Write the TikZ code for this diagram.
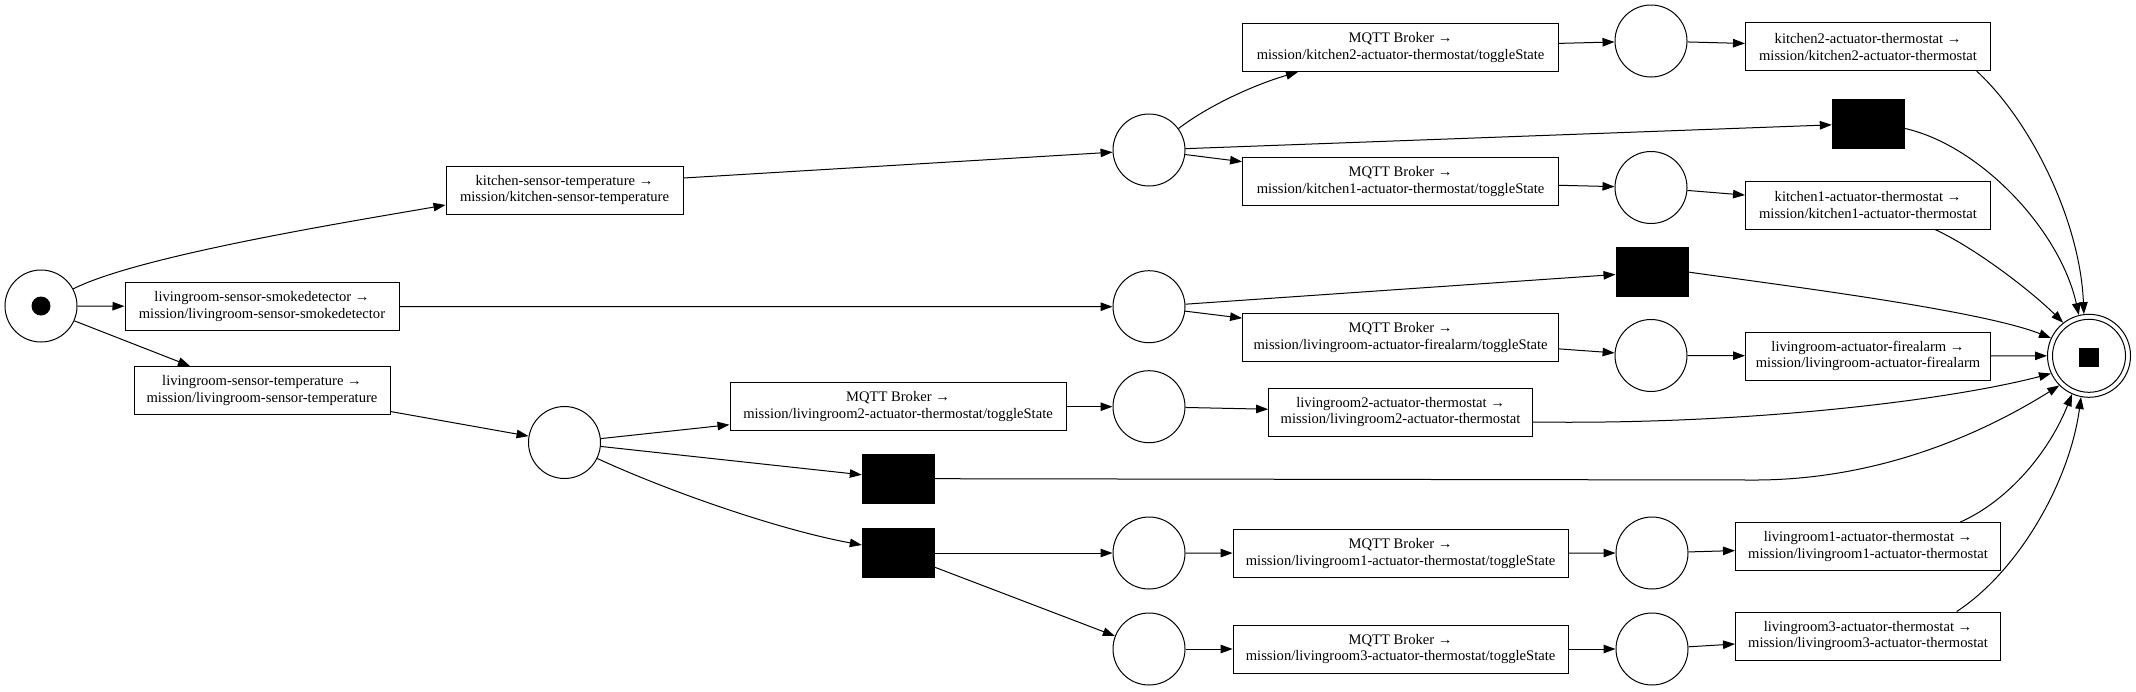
\documentclass[tikz,border=0pt]{standalone}
\usepackage{fontspec}
\setmainfont{Liberation Serif}
\usetikzlibrary{arrows.meta}
\begin{document}
\begin{tikzpicture}[x=1pt,y=-1pt,
  pl/.style={circle, draw, line width=1pt, minimum size=72pt, inner sep=0pt},
  tr/.style={rectangle, draw, line width=1pt, align=center, inner sep=2pt, minimum height=48pt, font=\fontsize{14.6}{16.8}\selectfont},
  bt/.style={rectangle, fill=black, draw=black, minimum width=72pt, minimum height=49pt, inner sep=0pt},
  arc/.style={-{Triangle[length=12pt,width=8.5pt]}, line width=1pt}]
\useasboundingbox (0,0) rectangle (2136,691);
% nodes
\node[pl] (start) at (41,306) {};
\node[circle, fill=black, minimum size=19pt, inner sep=0pt] (tok) at (start.center) {};
\node[tr, minimum width=237pt] (ks) at (564.5,190) {kitchen-sensor-temperature →\\mission/kitchen-sensor-temperature};
\node[tr, minimum width=274pt] (sm) at (262,306.5) {livingroom-sensor-smokedetector →\\mission/livingroom-sensor-smokedetector};
\node[tr, minimum width=256pt] (lt) at (262,390.5) {livingroom-sensor-temperature →\\mission/livingroom-sensor-temperature};
\node[pl] (Pk) at (1149,150) {};
\node[pl] (Ps) at (1149,306.7) {};
\node[pl] (Pl) at (564.5,442.5) {};
\node[tr, minimum width=316pt] (Mk2) at (1400.6,47.5) {MQTT Broker →\\mission/kitchen2-actuator-thermostat/toggleState};
\node[tr, minimum width=316pt] (Mk1) at (1400.6,181.5) {MQTT Broker →\\mission/kitchen1-actuator-thermostat/toggleState};
\node[bt] (T1) at (1868,123.5) {};
\node[pl] (Pk2) at (1651,41) {};
\node[pl] (Pk1) at (1651,187.5) {};
\node[tr, minimum width=245pt] (Ak2) at (1868,46.7) {kitchen2-actuator-thermostat →\\mission/kitchen2-actuator-thermostat};
\node[tr, minimum width=245pt] (Ak1) at (1868,205) {kitchen1-actuator-thermostat →\\mission/kitchen1-actuator-thermostat};
\node[bt] (T2) at (1651.7,272) {};
\node[tr, minimum width=316pt] (Mf) at (1400.6,337.5) {MQTT Broker →\\mission/livingroom-actuator-firealarm/toggleState};
\node[pl] (Pf) at (1651,355.5) {};
\node[tr, minimum width=245pt] (Af) at (1868,356) {livingroom-actuator-firealarm →\\mission/livingroom-actuator-firealarm};
\node[circle, draw, line width=1pt, minimum size=83pt, inner sep=0pt] (end) at (2089,355.8) {};
\node[circle, draw, line width=1pt, minimum size=73pt, inner sep=0pt] (endin) at (end.center) {};
\node[fill=black, minimum width=20pt, minimum height=19pt, inner sep=0pt] (endtok) at (2089,357) {};
\node[tr, minimum width=336pt] (Ml2) at (898,406.7) {MQTT Broker →\\mission/livingroom2-actuator-thermostat/toggleState};
\node[pl] (Pl2) at (1149,406.7) {};
\node[tr, minimum width=264pt] (Al2) at (1400.6,412) {livingroom2-actuator-thermostat →\\mission/livingroom2-actuator-thermostat};
\node[bt] (T3) at (898,478.7) {};
\node[bt] (T4) at (898,553) {};
\node[pl] (Pr1a) at (1149,553) {};
\node[tr, minimum width=335pt] (Mr1) at (1400.6,553.2) {MQTT Broker →\\mission/livingroom1-actuator-thermostat/toggleState};
\node[pl] (Pr1b) at (1652,553) {};
\node[tr, minimum width=265pt] (Ar1) at (1868,546.7) {livingroom1-actuator-thermostat →\\mission/livingroom1-actuator-thermostat};
\node[pl] (Pr3a) at (1149,649) {};
\node[tr, minimum width=335pt] (Mr3) at (1400.6,649) {MQTT Broker →\\mission/livingroom3-actuator-thermostat/toggleState};
\node[pl] (Pr3b) at (1652,649) {};
\node[tr, minimum width=265pt] (Ar3) at (1868,636) {livingroom3-actuator-thermostat →\\mission/livingroom3-actuator-thermostat};
% arcs
\draw[arc] (start.28) .. controls (140,255) and (360,220) .. ([yshift=-15pt]ks.west);
\draw[arc] (start) -- (sm);
\draw[arc] (start.-24) -- ([xshift=-72pt]lt.north);
\draw[arc] ([yshift=12pt]ks.east) -- (Pk);
\draw[arc] (sm) -- (Ps);
\draw[arc] ([yshift=-21pt]lt.east) -- (Pl);
\draw[arc] (Pk.36) .. controls (1205,108) and (1250,86) .. ([xshift=-102.6pt]Mk2.south);
\draw[arc] (Pk) -- (T1);
\draw[arc] (Pk) -- (Mk1);
\draw[arc] (Mk2) -- (Pk2);
\draw[arc] (Pk2) -- (Ak2);
\draw[arc] (Mk1) -- (Pk1);
\draw[arc] (Pk1) -- (Ak1);
\draw[arc] ([xshift=108.7pt]Ak2.south) .. controls (2030,120) and (2080,220) .. (end.97);
\draw[arc] ([yshift=-4.8pt]T1.east) .. controls (1980,145) and (2060,230) .. (end.104);
\draw[arc] ([xshift=67pt]Ak1.south) .. controls (1975,248) and (2030,290) .. (end.128);
\draw[arc] (Ps) -- (T2);
\draw[arc] (Ps) -- (Mf);
\draw[arc] (Mf) -- (Pf);
\draw[arc] (Pf) -- (Af);
\draw[arc] (T2.east) .. controls (1780,285) and (1980,310) .. (end.155);
\draw[arc] (Af) -- (end);
\draw[arc] (Pl) -- (Ml2);
\draw[arc] (Pl) -- (T3);
\draw[arc] (Pl.-26) .. controls (670,492) and (780,530) .. ([yshift=8pt]T4.west);
\draw[arc] (Ml2) -- (Pl2);
\draw[arc] (Pl2) -- (Al2);
\draw[arc] ([yshift=-10pt]Al2.east) .. controls (1750,425) and (1950,400) .. (end.205);
\draw[arc] (T3.east) -- (1750,480) .. controls (1880,481) and (1985,432) .. (end.225);
\draw[arc] (T4) -- (Pr1a);
\draw[arc] ([yshift=-14pt]T4.east) -- (Pr3a);
\draw[arc] (Pr1a) -- (Mr1);
\draw[arc] (Mr1) -- (Pr1b);
\draw[arc] (Pr1b) -- (Ar1);
\draw[arc] (Pr3a) -- (Mr3);
\draw[arc] (Mr3) -- (Pr3b);
\draw[arc] (Pr3b) -- (Ar3);
\draw[arc] ([xshift=92pt]Ar1.north) .. controls (2010,500) and (2050,450) .. (end.246);
\draw[arc] ([xshift=88.7pt]Ar3.north) .. controls (2020,570) and (2070,480) .. (end.259);
\end{tikzpicture}
\end{document}
